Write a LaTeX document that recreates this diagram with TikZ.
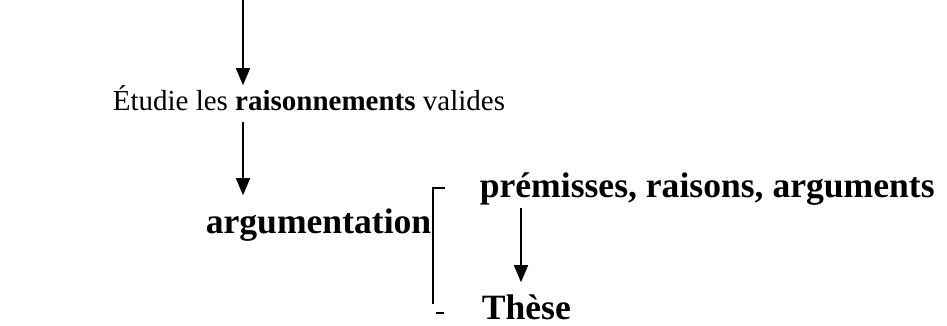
\documentclass[tikz,border=0pt]{standalone}
\usepackage{fontspec}
\setmainfont{Liberation Serif}
\usetikzlibrary{arrows.meta}

\begin{document}
\begin{tikzpicture}[x=1pt, y=-1pt, line width=1.6pt,
    >={Triangle[length=17pt,width=14pt]},
    txt/.style={anchor=base west, inner sep=0pt, font=\fontsize{29}{35}\selectfont,
                text height=20pt, text depth=6pt},
    btxt/.style={anchor=base west, inner sep=0pt, font=\fontsize{35.6}{42}\selectfont\bfseries,
                text height=24pt, text depth=7pt}]
            \useasboundingbox (0,0) rectangle (947,326);

            \coordinate (top) at (243,0);
            \node[txt] (etude) at (112,111) {Étudie les \textbf{raisonnements} valides};
            \node[btxt] (arg) at (205,233) {argumentation};
            \node[btxt] (prem) at (479,197) {prémisses, raisons, arguments};
            \node[btxt] (these) at (481,319) {Thèse};

            \draw[->, shorten >=5pt] (top) -- (top |- etude.north);
            \draw[->, shorten <=4pt, shorten >=13pt] (top |- etude.south) -- (top |- arg.north);
            \draw[->, shorten <=3pt, shorten >=12pt] (521,0 |- prem.south) -- (521,0 |- these.north);

            % accolade
            \draw (445,188) -- (433,188) -- (433,304);
            \draw (436,313) -- (444,313);
        \end{tikzpicture}
\end{document}
